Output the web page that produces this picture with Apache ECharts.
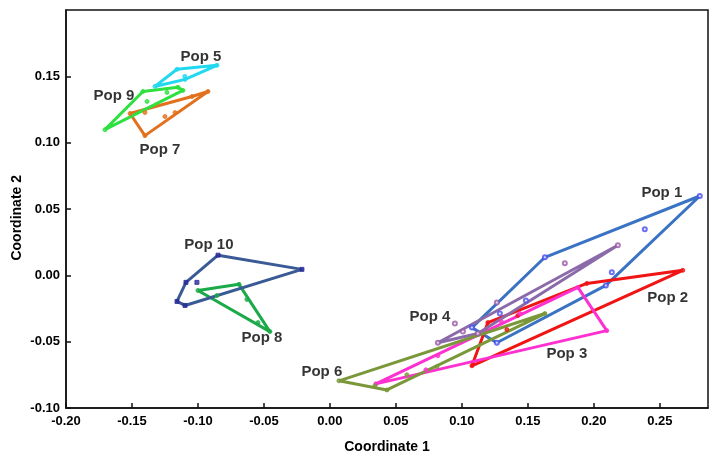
<!DOCTYPE html>
<html>
<head>
<meta charset="utf-8">
<script src="https://cdn.jsdelivr.net/npm/echarts@6/dist/echarts.min.js"></script>
<style>
  html, body { margin: 0; padding: 0; background: #fff; }
  #main { width: 716px; height: 462px; }
</style>
</head>
<body>
<div id="main"></div>
<script>
// population names and colours
var popNames = ['Pop 1', 'Pop 2', 'Pop 3', 'Pop 4', 'Pop 5', 'Pop 6', 'Pop 7', 'Pop 8', 'Pop 9', 'Pop 10'];
var popColors = ['#3a72c4', '#f01414', '#ff30d0', '#8a6aa8', '#20d8f0', '#7a983a', '#e2701c', '#1aaa48', '#2ee040', '#3a5a96'];
var markColors = ['#4a4cf0', '#f01414', '#ff30d0', '#9a5aa8', '#20d8f0', '#7a983a', '#e2701c', '#1aaa48', '#2ee040', '#2a2a9a'];

// hull vertices
var hull1 = [[0.2803, 0.0598], [0.1629, 0.0136], [0.1076, -0.0394], [0.1265, -0.0508], [0.2091, -0.0076]];
var hull2 = [[0.2674, 0.0038], [0.1947, -0.0061], [0.1197, -0.0356], [0.1076, -0.0682]];
var hull3 = [[0.1879, -0.0091], [0.2098, -0.0417], [0.0348, -0.0818]];
var hull4 = [[0.2182, 0.0227], [0.0818, -0.0508], [0.1121, -0.0439]];
var hull5 = [[-0.1326, 0.1424], [-0.1159, 0.1553], [-0.0856, 0.1583], [-0.1098, 0.1477]];
var hull6 = [[0.0068, -0.0795], [0.0432, -0.0864], [0.1629, -0.0288]];
var hull7 = [[-0.1515, 0.1220], [-0.1045, 0.1348], [-0.0924, 0.1386], [-0.1402, 0.1053]];
var hull8 = [[-0.1000, -0.0114], [-0.0689, -0.0068], [-0.0455, -0.0424]];
var hull9 = [[-0.1705, 0.1098], [-0.1417, 0.1386], [-0.1152, 0.1417], [-0.1114, 0.1394]];
var hull10 = [[-0.0848, 0.0152], [-0.0212, 0.0045], [-0.1098, -0.0227], [-0.1159, -0.0197], [-0.1091, -0.0053]];

// points inside the hulls
var pts1 = [[0.2386, 0.0348], [0.2136, 0.0023], [0.1485, -0.0189], [0.1288, -0.0288]];
var pts2 = [[0.1424, -0.0303], [0.1341, -0.0409]];
var pts3 = [[0.0727, -0.0712], [0.0818, -0.0606], [0.1439, -0.0288], [0.1300, -0.0350]];
var pts4 = [[0.1780, 0.0091], [0.0947, -0.0364], [0.1008, -0.0424], [0.1265, -0.0205]];
var pts5 = [[-0.1100, 0.1500]];
var pts6 = [[0.0811, -0.0689], [0.0583, -0.0750], [0.0341, -0.0833]];
var pts7 = [[-0.1402, 0.1227], [-0.1250, 0.1197], [-0.1174, 0.1227]];
var pts8 = [[-0.0856, -0.0152], [-0.0629, -0.0182], [-0.0545, -0.0356]];
var pts9 = [[-0.1386, 0.1311], [-0.1235, 0.1379]];
var pts10 = [[-0.1008, -0.0053]];

// where the population names sit
var labelPos = [[0.2515, 0.0621], [0.2560, -0.0167], [0.1795, -0.0591], [0.0758, -0.0311], [-0.0977, 0.1644],
                [-0.0061, -0.0727], [-0.1288, 0.0947], [-0.0515, -0.0470], [-0.1636, 0.1356], [-0.0917, 0.0227]];

var hulls = [hull1, hull2, hull3, hull4, hull5, hull6, hull7, hull8, hull9, hull10];
var points = [pts1, pts2, pts3, pts4, pts5, pts6, pts7, pts8, pts9, pts10];
var symbols = ['emptyCircle', 'circle', 'circle', 'emptyCircle', 'circle', 'circle', 'circle', 'circle', 'circle', 'rect'];

var myChart = echarts.init(document.getElementById('main'));
var font = '"Liberation Sans", Arial, sans-serif';

var series = [];
// hull outlines, one custom item per population
series.push({
    type: 'custom',
    silent: true,
    data: hulls.map(function (h, i) { return [h[0][0], h[0][1], i]; }),
    encode: { x: 0, y: 1 },
    renderItem: function (params, api) {
        var idx = api.value(2);
        var pts = hulls[idx].map(function (p) { return api.coord(p); });
        pts.push(pts[0]);
        return {
            type: 'polyline',
            shape: { points: pts },
            style: { stroke: popColors[idx], lineWidth: 3, fill: null, lineJoin: 'round' },
            z2: idx
        };
    },
    z: 2
});
for (var i = 0; i < hulls.length; i++) {
    series.push({
        name: popNames[i],
        type: 'scatter',
        data: hulls[i].concat(points[i]),
        symbol: symbols[i],
        symbolSize: 4,
        itemStyle: { color: markColors[i], borderColor: markColors[i] },
        z: 3
    });
}
series.push({
    type: 'scatter',
    symbolSize: 0,
    silent: true,
    data: labelPos.map(function (p, i) {
        return { value: p, name: popNames[i] };
    }),
    label: {
        show: true,
        position: 'inside',
        formatter: '{b}',
        fontFamily: font,
        fontWeight: 'bold',
        fontSize: 15,
        color: '#000'
    },
    z: 5
});

var option = {
    animation: false,
    backgroundColor: '#fff',
    grid: {
        left: 66, right: 8, top: 10, bottom: 54,
        show: true, borderColor: '#111', borderWidth: 1.5
    },
    xAxis: {
        type: 'value',
        min: -0.2, max: 0.2865, interval: 0.05,
        splitLine: { show: false },
        axisLine: { onZero: false, lineStyle: { color: '#111', width: 1.5 } },
        axisTick: { inside: true, length: 5, lineStyle: { color: '#111', width: 1.5 } },
        axisLabel: {
            showMaxLabel: false, margin: 7,
            fontFamily: font, fontWeight: 'bold', fontSize: 13, color: '#000',
            formatter: function (v) { return v.toFixed(2); }
        },
        name: 'Coordinate 1',
        nameLocation: 'middle',
        nameGap: 32,
        nameTextStyle: { fontFamily: font, fontWeight: 'bold', fontSize: 14, color: '#000' }
    },
    yAxis: {
        type: 'value',
        min: -0.1, max: 0.2, interval: 0.05,
        splitLine: { show: false },
        axisLine: { onZero: false, lineStyle: { color: '#111', width: 1.5 } },
        axisTick: { inside: true, length: 5, lineStyle: { color: '#111', width: 1.5 } },
        axisLabel: {
            showMaxLabel: false, margin: 6,
            fontFamily: font, fontWeight: 'bold', fontSize: 13, color: '#000',
            formatter: function (v) { return v.toFixed(2); }
        }
    },
    graphic: [{
        type: 'text',
        left: 10,
        top: 175,
        rotation: Math.PI / 2,
        style: {
            text: 'Coordinate 2',
            font: 'bold 14px ' + font,
            fill: '#000'
        }
    }],
    series: series
};
myChart.setOption(option);
</script>
</body>
</html>
